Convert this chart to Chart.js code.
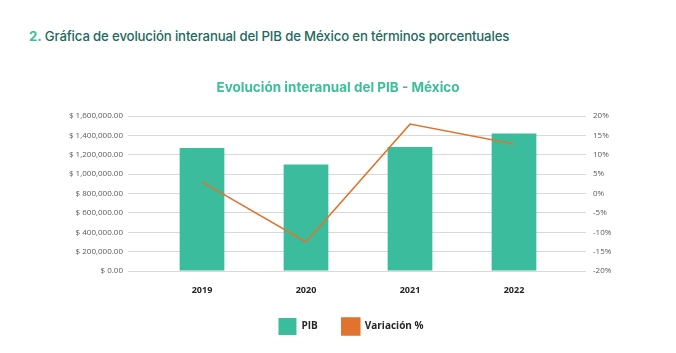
<!DOCTYPE html>
<html>
<head>
<meta charset="utf-8">
<script src="https://cdn.jsdelivr.net/npm/chart.js@4"></script>
<style>
  html, body { margin: 0; padding: 0; background: #fff; }
  #wrap { position: relative; width: 676px; height: 353px; overflow: hidden; }
  #heading {
    position: absolute; left: 29px; top: 28px; margin: 0;
    font-family: Inter, "Noto Sans", sans-serif; font-size: 13.2px; font-weight: 500;
    color: #1d6a5e; letter-spacing: -0.15px; white-space: nowrap;
  }
  #heading span { color: #3dbf9a; font-weight: 700; }
  #chartTitle {
    position: absolute; left: 0; top: 79px; width: 676px; margin: 0;
    text-align: center; line-height: 16px;
    font-family: Inter, "Noto Sans", sans-serif; font-size: 13.5px; font-weight: 700;
    color: #3dbf9a;
  }
  canvas { position: absolute; left: 0; top: 0; }
</style>
</head>
<body>
<div id="wrap">
  <h2 id="heading"><span>2.</span> Gráfica de evolución interanual del PIB de México en términos porcentuales</h2>
  <canvas id="pibChart" width="676" height="353"></canvas>
  <div id="chartTitle">Evolución interanual del PIB - México</div>
</div>
<script>
var years = ['2019', '2020', '2021', '2022'];
var pib = [1269000, 1100000, 1280000, 1420000];
var variacion = [3.0, -12.5, 17.9, 12.8];

var ctx = document.getElementById('pibChart').getContext('2d');

var pibChart = new Chart(ctx, {
  type: 'bar',
  data: {
    labels: years,
    datasets: [{
        type: 'line',
        label: 'Variación %',
        data: variacion,
        yAxisID: 'y1',
        borderColor: '#e0742f',
        backgroundColor: '#e0742f',
        borderWidth: 1.5,
        pointRadius: 0,
        tension: 0,
        order: 0
      }, {
        label: 'PIB',
        data: pib,
        yAxisID: 'y',
        backgroundColor: '#3bbd9d',
        borderWidth: 0,
        categoryPercentage: 1,
        barPercentage: 0.43,
        order: 1
      }]
  },
  options: {
    responsive: false,
    animation: false,
    layout: { padding: { top: 116, left: 26, right: 0, bottom: 8 } },
    plugins: {
      title: { display: false },
      legend: {
        position: 'bottom',
        reverse: true,
        labels: {
          boxWidth: 18,
          boxHeight: 17,
          padding: 24,
          color: '#262626',
          font: { family: '"Open Sans", sans-serif', size: 10, weight: 'bold' }
        }
      },
      tooltip: { enabled: false }
    },
    scales: {
      x: {
        afterFit: function (scale) { scale.height = 23; },
        grid: { display: false },
        border: { display: false },
        ticks: {
          color: '#262626',
          padding: 6,
          font: { family: '"Open Sans", sans-serif', size: 9, weight: 'bold' }
        }
      },
      y: {
        position: 'left',
        min: 0,
        max: 1600000,
        afterFit: function (scale) { scale.width = 124; },
        grid: { color: '#d9d9d9', tickLength: 22, tickColor: '#d9d9d9' },
        border: { display: false },
        ticks: {
          stepSize: 200000,
          padding: 5,
          color: '#595959',
          font: { family: '"Open Sans", sans-serif', size: 8 },
          callback: function (v) {
            return '$ ' + v.toLocaleString('en-US', { minimumFractionDigits: 2, maximumFractionDigits: 2 });
          }
        }
      },
      y1: {
        position: 'right',
        min: -20,
        max: 20,
        afterFit: function (scale) { scale.width = 110; },
        grid: { drawOnChartArea: false, tickLength: 20, tickColor: '#d9d9d9' },
        border: { display: false },
        ticks: {
          stepSize: 5,
          padding: 7,
          color: '#595959',
          font: { family: '"Open Sans", sans-serif', size: 8 },
          callback: function (v) { return v + '%'; }
        }
      }
    }
  }
});
</script>
</body>
</html>
